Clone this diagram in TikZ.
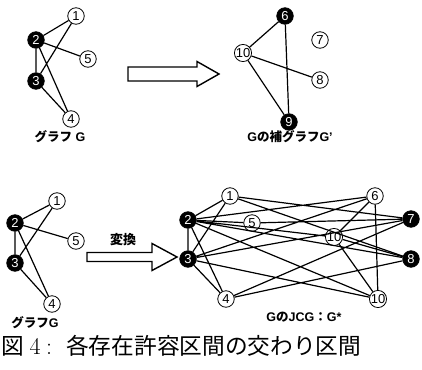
\documentclass[tikz,border=0pt]{standalone}
\usepackage{fontspec}
\newfontfamily\ar{Liberation Sans}
\newfontfamily\jp{Noto Sans CJK JP}
\tikzset{
  vw/.style={circle, draw, fill=white, line width=0.8pt, inner sep=0pt, minimum size=16.5pt,
    font=\ar\fontsize{13}{13}\selectfont},
  vb/.style={vw, fill=black, text=white},
  ed/.style={line width=1.2pt},
  lab/.style={inner sep=0pt, font=\bfseries\fontsize{12.5}{14}\selectfont},
  blk/.style={draw, line width=1.4pt, fill=white, line join=miter},
  capj/.style={anchor=base west, inner sep=0pt, font=\jp\fontsize{22.7}{26}\selectfont},
  capl/.style={anchor=base west, inner sep=0pt, font=\fontsize{24}{26}\selectfont}
}
\begin{document}
\begin{tikzpicture}[x=1pt, y=-1pt]
\useasboundingbox (0,0) rectangle (422,369);
% ---------- top left: G ----------
\node[vw] (a1) at (76,16) {1};
\node[vb] (a2) at (36,40) {2};
\node[vw] (a5) at (88,59) {5};
\node[vb] (a3) at (36,81) {3};
\node[vw] (a4) at (71,119) {4};
\draw[ed] (a2)--(a1) (a2)--(a5) (a2)--(a3) (a2)--(a4) (a3)--(a1) (a3)--(a4);
\node[lab] (lg1) at (60,137) {\jp グラフ{\ar\ G}};
% ---------- top arrow ----------
\draw[blk] (128,67)--(197,67)--(197,61.5)--(219,74)--(197,86.5)--(197,81)--(128,81)--cycle;
% ---------- top right: G' ----------
\node[vb] (b6) at (285,16) {6};
\node[vw] (b7) at (320,40) {7};
\node[vw] (b10) at (243,53) {10};
\node[vw] (b8) at (320,80) {8};
\node[vb] (b9) at (289,122) {9};
\draw[ed] (b6)--(b10) (b6)--(b9) (b10)--(b8) (b10)--(b9);
\node[lab] (lg2) at (290,137) {{\ar G}\jp の補グラフ{\ar G’}};
% ---------- bottom left: G ----------
\node[vw] (c1) at (57,201) {1};
\node[vb] (c2) at (15,223) {2};
\node[vw] (c5) at (76,241) {5};
\node[vb] (c3) at (15,263) {3};
\node[vw] (c4) at (52,304) {4};
\draw[ed] (c2)--(c1) (c2)--(c5) (c2)--(c3) (c2)--(c4) (c3)--(c1) (c3)--(c4);
\node[lab] (lg3) at (35,323) {\jp グラフ{\ar G}};
% ---------- bottom arrow ----------
\draw[blk] (87,252.5)--(152,252.5)--(152,243.5)--(177,257)--(152,270.5)--(152,261.5)--(87,261.5)--cycle;
\node[inner sep=0pt, font=\jp\bfseries\fontsize{13}{14}\selectfont] (tr) at (123,240) {変換};
% ---------- bottom right: G* ----------
\node[vw] (d1) at (230,196) {1};
\node[vb] (d2) at (188,220) {2};
\node[vw] (d5) at (252,223) {5};
\node[vb] (d3) at (188,259) {3};
\node[vw] (d4) at (226,299) {4};
\node[vw] (d6) at (375,196) {6};
\node[vb] (d7) at (411,219) {7};
\node[vw] (d10) at (334,237) {10};
\node[vb] (d8) at (411,259) {8};
\node[vw] (d9) at (378,299) {10};
\draw[ed] (d2)--(d1) (d2)--(d5) (d2)--(d3) (d2)--(d4) (d3)--(d1) (d3)--(d4);
\draw[ed] (d6)--(d10) (d6)--(d9) (d10)--(d8) (d10)--(d9);
\draw[ed] (d1)--(d7) (d1)--(d8)
          (d2)--(d6) (d2)--(d8) (d2)--(d9) (d2)--(d10)
          (d3)--(d6) (d3)--(d7) (d3)--(d9)
          (d4)--(d7) (d4)--(d8)
          (d5)--(d7);
\node[lab] (lg4) at (304,317) {{\ar G}\jp の{\ar JCG}：{\ar G*}};
% ---------- caption ----------
\node[capj] (cap1) at (1.5,354) {図};
\node[capl] (cap2) at (29.5,354) {4};
\node[capl] (cap2b) at (46,354) {:};
\node[capj] (cap3) at (66,354) {各存在許容区間の交わり区間};
\end{tikzpicture}
\end{document}
